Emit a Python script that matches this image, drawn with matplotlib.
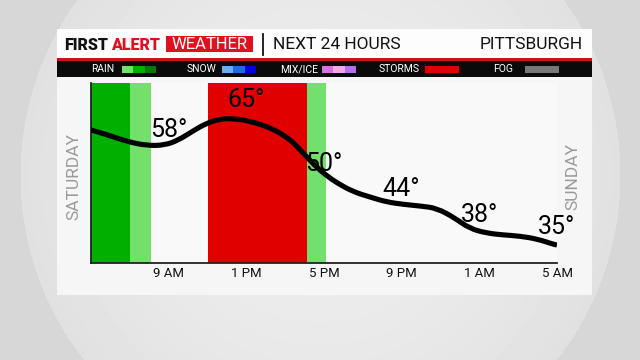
import numpy as np
import matplotlib.pyplot as plt
from matplotlib.patches import Rectangle, PathPatch
from matplotlib.path import Path

plt.rcParams['font.family'] = ['Roboto', 'DejaVu Sans']

# hours after 5 AM Saturday, temperature
hours = [0.0, 0.9, 1.9, 2.9, 3.8, 4.5, 5.2, 5.9, 6.7, 7.6, 8.4, 9.3, 10.2, 10.8, 11.5, 12.1,
         12.7, 13.5, 14.4, 15.2, 16.1, 17.0, 17.8, 18.7, 19.5, 20.4, 21.2, 22.1, 23.0, 23.8, 24.0]
temps = [62.2, 61.0, 59.4, 58.5, 58.6, 59.8, 61.8, 63.7, 64.9, 64.8, 64.0, 62.6, 60.2, 57.4,
         53.9, 51.5, 49.6, 47.6, 46.3, 45.2, 44.6, 44.2, 43.7, 41.5, 38.9, 37.8, 37.4, 37.1,
         36.4, 35.2, 35.0]

tick_hours = [4, 8, 12, 16, 20, 24]
tick_labels = ['9 AM', '1 PM', '5 PM', '9 PM', '1 AM', '5 AM']
label_temps = [58, 65, 50, 44, 38, 35]

# precipitation bands (start hour, end hour, colour)
band_start = [0, 2, 6, 11.1]
band_end = [2, 3.1, 11.1, 12.1]
band_color = ['#00b000', '#73e06b', '#e00000', '#73e06b']

legend_names = ['RAIN', 'SNOW', 'MIX/ICE', 'STORMS', 'FOG']
legend_swatches = [['#72e06a', '#00b000', '#007a00'],
                   ['#6ab0e8', '#1a6fe0', '#0000e0'],
                   ['#d870e0', '#f4a8e8', '#b070f0'],
                   ['#e00000'],
                   ['#777777']]

fig = plt.figure(figsize=(6.4, 3.6), dpi=100)
bg = fig.add_axes([0, 0, 1, 1])
bg.set_xlim(0, 640)
bg.set_ylim(360, 0)
bg.axis('off')

# studio background
yy, xx = np.mgrid[0:360, 0:640]
r = np.hypot(xx - 320, (yy - 175) * 1.0)
grad = np.where(r < 300, 0.93 - 0.05 * (r / 300) ** 2, 0.84)
bg.imshow(grad, extent=(0, 640, 360, 0), cmap='gray', vmin=0, vmax=1, aspect='auto', zorder=0)

# card
bg.add_patch(Rectangle((57, 29), 535, 266, facecolor='#f6f6f6', edgecolor='none', zorder=1))
bg.add_patch(Rectangle((57, 29), 535, 29, facecolor='#fdfdfd', edgecolor='none', zorder=2))
bg.add_patch(Rectangle((57, 58), 535, 3, facecolor='#d0101e', edgecolor='none', zorder=2))
bg.add_patch(Rectangle((57, 61), 535, 16, facecolor='#0a0a0a', edgecolor='none', zorder=2))

# header
bg.text(64, 44.5, 'FIRST', fontsize=11.5, fontweight='heavy', color='#111111', va='center', zorder=3)
bg.text(111, 44.5, 'ALERT', fontsize=11.5, fontweight='heavy', color='#e0101e', va='center', zorder=3)
bg.add_patch(Rectangle((166, 36), 87, 16, facecolor='#e0101e', edgecolor='none', zorder=2))
bg.text(209.5, 44.5, 'WEATHER', fontsize=12, color='white', ha='center', va='center', zorder=3)
bg.plot([263, 263], [34, 55], color='#111111', lw=1.3, zorder=3)
bg.text(273, 44.5, 'NEXT 24 HOURS', fontsize=12.5, color='#111111', va='center', zorder=3)
bg.text(583, 44.5, 'PITTSBURGH', fontsize=12.5, color='#111111', ha='right', va='center', zorder=3)

# legend bar
legend_x = [91, 187, 280, 379, 493]
swatch_x = [122, 222, 322, 425, 525]
for x0, sx, name, sw in zip(legend_x, swatch_x, legend_names, legend_swatches):
    bg.text(x0, 69.5, name, fontsize=7.5, color='white', va='center', zorder=3)
    width = 34 / len(sw)
    for i, c in enumerate(sw):
        bg.add_patch(Rectangle((sx + i * width, 66), width, 7, facecolor=c, edgecolor='none', zorder=3))

# day labels
bg.text(74, 176, 'SATURDAY', fontsize=12.5, color='#9a9a9a', rotation=90, ha='center', va='center', zorder=3)
bg.text(573, 176, 'SUNDAY', fontsize=12.5, color='#9a9a9a', rotation=90, ha='center', va='center', zorder=3)

# chart
ax = fig.add_axes([91 / 640, (360 - 263) / 360, (557 - 91) / 640, (263 - 83) / 360])
ax.set_facecolor('#f9f9f9')
ax.set_xlim(0, 24)
ax.set_ylim(30.75, 73.3)
for s, e, c in zip(band_start, band_end, band_color):
    ax.axvspan(s, e, color=c, lw=0, zorder=1)

# smooth temperature line: quadratic bezier through midpoints of the readings
pts = list(zip(hours, temps))
verts = [pts[0]]
codes = [Path.MOVETO]
for i in range(1, len(pts) - 1):
    mid = ((pts[i][0] + pts[i + 1][0]) / 2, (pts[i][1] + pts[i + 1][1]) / 2)
    verts += [pts[i], mid]
    codes += [Path.CURVE3, Path.CURVE3]
verts.append(pts[-1])
codes.append(Path.LINETO)
ax.add_patch(PathPatch(Path(verts, codes), facecolor='none', edgecolor='black', lw=3.7,
                       capstyle='butt', joinstyle='round', zorder=3))

for h, t in zip(tick_hours, label_temps):
    ax.text(h, t + 4.2, f'{t}°', fontsize=18, color='black', ha='center', va='center', zorder=4)

for side in ['top', 'right']:
    ax.spines[side].set_visible(False)
for side in ['left', 'bottom']:
    ax.spines[side].set_color('#222222')
    ax.spines[side].set_linewidth(1.3)
ax.set_yticks([])
ax.set_xticks(tick_hours)
ax.set_xticklabels(tick_labels, fontsize=9.5, color='#111111')
ax.tick_params(axis='x', length=0, pad=3)

fig.savefig('out.png', dpi=100)
